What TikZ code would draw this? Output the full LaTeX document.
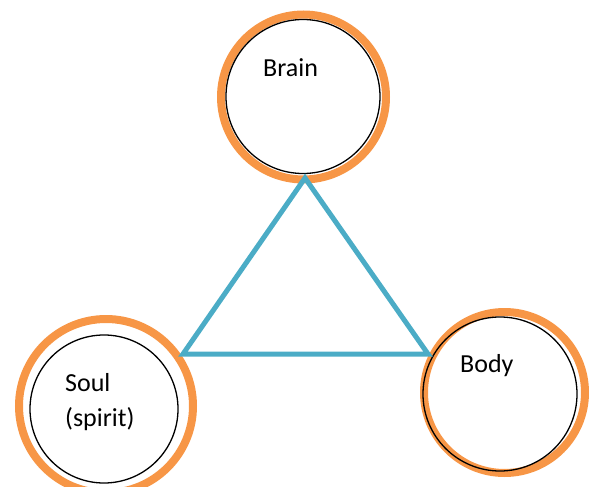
\documentclass[tikz,border=0pt]{standalone}
\usepackage{fontspec}
\setmainfont{Carlito}
\definecolor{ringorange}{HTML}{F79646}
\definecolor{triblue}{HTML}{4BACC6}
\begin{document}
\begin{tikzpicture}[x=1pt,y=-1pt,
  ring/.style={circle,draw=ringorange,line width=8pt,inner sep=0pt,minimum size=#1},
  core/.style={circle,draw=black,line width=1.3pt,inner sep=0pt,minimum size=#1},
  lbl/.style={anchor=base west,inner sep=0pt,font=\fontsize{26}{36}\selectfont},
  tri/.style={draw=triblue,line width=5pt,line join=miter}]
\useasboundingbox (0,0) rectangle (589,487);
% Brain
\node[ring=165pt] (brainring) at (303.5,97) {};
\node[core=154pt] (brain) at (303,96.5) {};
\node[lbl] (braintext) at (263,77) {Brain};
% Soul
\node[ring=174pt] (soulring) at (106,406) {};
\node[core=148pt] (soul) at (104,409) {};
\node[lbl] (soultext) at (65,391) {Soul};
\node[lbl] (spirittext) at (65,426) {(spirit)};
% Body
\node[ring=161pt] (bodyring) at (504.5,392.5) {};
\node[core=154pt] (body) at (500,394) {};
\node[lbl] (bodytext) at (460,372) {Body};
% Triangle
\coordinate (apex) at (305,178);
\coordinate (left) at (183,354);
\coordinate (right) at (428,354);
\draw[tri] (apex) -- (right) -- (left) -- cycle;
\end{tikzpicture}
\end{document}
